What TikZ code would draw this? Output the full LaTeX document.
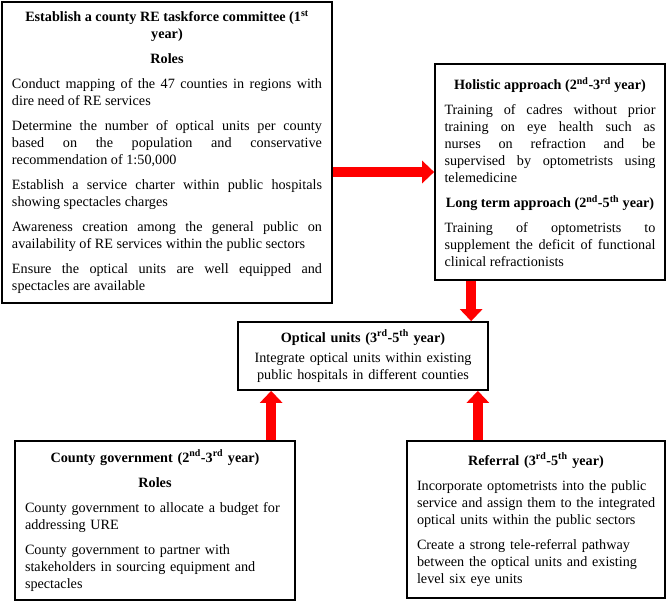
\documentclass[tikz,border=0pt]{standalone}
\usepackage{fontspec}
\setmainfont{Liberation Serif}
\usetikzlibrary{arrows.meta}
\newcommand{\hd}[1]{{\centering\bfseries #1\par}}
\begin{document}
\begin{tikzpicture}[x=1pt,y=-1pt,
  box/.style={draw=black, line width=1.7pt, fill=white, inner sep=0pt,
    font=\fontsize{14.2}{17}\selectfont,
    execute at begin node={\setlength\parskip{8pt}\setlength\parindent{0pt}\hyphenpenalty=10000\relax}},
  fat/.style={draw=red, line width=10pt, -{Triangle[width=22pt,length=12pt]}}]
\fill[white] (0,0) rectangle (668,603);
\useasboundingbox (0,0) rectangle (668,603);

\node[box, align=justify, text width=310pt, minimum width=330pt, minimum height=301pt] (A) at (167,152.5) {%
\hd{Establish a county RE taskforce committee (1\textsuperscript{st}\\ year)}
\hd{Roles}
Conduct mapping of the 47 counties in regions with\linebreak dire need of RE services\par
Determine the number of optical units per county\linebreak based on the population and conservative\linebreak recommendation of 1:50,000\par
Establish a service charter within public hospitals\linebreak showing spectacles charges\par
Awareness creation among the general public on\linebreak availability of RE services within the public sectors\par
Ensure the optical units are well equipped and\linebreak spectacles are available};

\node[box, align=justify, text width=211pt, minimum width=230pt, minimum height=216pt] (B) at (550,172) {%
\hd{Holistic approach (2\textsuperscript{nd}-3\textsuperscript{rd} year)}
Training of cadres without prior\linebreak training on eye health such as\linebreak nurses on refraction and be\linebreak supervised by optometrists using\linebreak telemedicine\par
\hd{Long term approach (2\textsuperscript{nd}-5\textsuperscript{th} year)}
Training of optometrists to\linebreak supplement the deficit of functional\linebreak clinical refractionists};

\node[box, align=center, text width=240pt, minimum width=250pt, minimum height=68pt] (C) at (363,356) {%
{\bfseries Optical units (3\textsuperscript{rd}-5\textsuperscript{th} year)}\\[3pt]
Integrate optical units within existing\\ public hospitals in different counties};

\node[box, align=left, text width=260pt, minimum width=280pt, minimum height=159pt] (D) at (155,520.5) {%
\hd{County government (2\textsuperscript{nd}-3\textsuperscript{rd} year)}
\hd{Roles}
\mbox{County government to allocate a budget for}\\ addressing URE\par
County government to partner with\\ \mbox{stakeholders in sourcing equipment and}\\ spectacles};

\node[box, align=left, text width=238pt, minimum width=258pt, minimum height=157pt] (E) at (536,519.5) {%
\hd{Referral (3\textsuperscript{rd}-5\textsuperscript{th} year)}
\mbox{Incorporate optometrists into the public}\\ \mbox{service and assign them to the integrated}\\ \mbox{optical units within the public sectors}\par
\mbox{Create a strong tele-referral pathway}\\ \mbox{between the optical units and existing}\\ level six eye units};

\draw[fat] (A.east |- B.west) -- (B.west);
\draw[fat] ([xshift=37pt]B.south west) -- ([xshift=37pt]B.south west |- C.north);
\draw[fat] ([xshift=34pt]C.south west |- D.north) -- ([xshift=34pt]C.south west);
\draw[fat] ([xshift=-11pt]C.south east |- E.north) -- ([xshift=-11pt]C.south east);
\end{tikzpicture}
\end{document}
